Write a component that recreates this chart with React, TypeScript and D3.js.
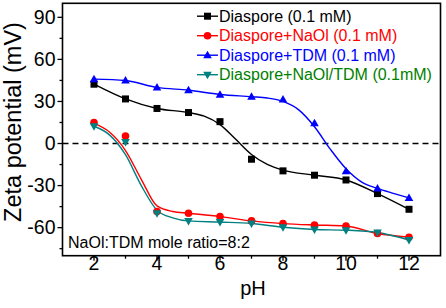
import React from "react";
import * as d3 from "d3";

const pH = [2, 3, 4, 5, 6, 7, 8, 9, 10, 11, 12];
const diaspore = [42.3, 31.8, 25, 22.1, 15.6, -11.2, -19.5, -22.6, -26, -35.7, -46.9];
const naol = [15, 5.4, -48.5, -49.7, -52.1, -55.2, -57.1, -58.1, -58.8, -64.2, -66.8];
const tdm = [45.9, 44.9, 39.9, 38, 34.7, 33.4, 31.4, 14.5, -19.8, -32.1, -38.8];
const mix = [12.3, 1.1, -49.7, -55.2, -56, -57, -59.7, -61.3, -61.8, -63.5, -68.8];

// fitted curves
const fitDiasporeX = [2, 3, 4, 5, 5.5, 6, 6.5, 7, 7.5, 8, 9, 10, 11, 12];
const fitDiasporeY = [42.3, 31.8, 25, 22.1, 19.5, 13.5, 3, -7.8, -14.9, -19, -22.6, -26, -35.7, -46.9];
const fitTdmX = [2, 3, 4, 5, 6, 7, 7.5, 8, 8.5, 9, 9.5, 10, 10.5, 11, 11.5, 12];
const fitTdmY = [45.9, 44.9, 40, 38, 35, 33.4, 32.5, 30, 24, 12, -4, -18, -27.5, -32, -35.5, -38.8];
const fitNaolX = [2, 2.5, 3, 3.5, 4, 4.5, 5, 6, 7, 8, 9, 10, 11, 12];
const fitNaolY = [14.3, 8, -5, -25.5, -44.5, -48.5, -49.7, -52.1, -55.2, -57.1, -58.1, -58.8, -64.2, -66.8];
const fitMixX = [2, 2.5, 3, 3.5, 4, 4.5, 5, 6, 7, 8, 9, 10, 11, 12];
const fitMixY = [12.3, 6, -8, -30, -47.5, -53, -55.2, -56, -57, -59.7, -61.3, -61.8, -63.5, -68.8];

const xMajor = [2, 4, 6, 8, 10, 12];
const xMinor = [3, 5, 7, 9, 11];
const yMajor = [-60, -30, 0, 30, 60, 90];
const yMinor = [-75, -45, -15, 15, 45, 75];

const legendLabels = [
  "Diaspore (0.1 mM)",
  "Diaspore+NaOl (0.1 mM)",
  "Diaspore+TDM (0.1 mM)",
  "Diaspore+NaOl/TDM (0.1mM)",
];

const W = 446, H = 308;
const L = 62.5, R = 440.5, T = 3.3, B = 255.7;
const FONT = "'Liberation Sans', Arial, sans-serif";

export default function App() {
  const x = d3.scaleLinear().domain([1, 13]).range([L, R]);
  const y = d3.scaleLinear().domain([-80, 100]).range([B, T]);
  const line = d3
    .line<[number, number]>()
    .x((d) => x(d[0]))
    .y((d) => y(d[1]))
    .curve(d3.curveMonotoneX);

  const series = [
    { vals: diaspore, fx: fitDiasporeX, fy: fitDiasporeY, color: "#000000", text: "#000000", shape: "square" },
    { vals: naol, fx: fitNaolX, fy: fitNaolY, color: "#FF0000", text: "#FF0000", shape: "circle" },
    { vals: tdm, fx: fitTdmX, fy: fitTdmY, color: "#0000FF", text: "#0000FF", shape: "up" },
    { vals: mix, fx: fitMixX, fy: fitMixY, color: "#008080", text: "#008000", shape: "down" },
  ];

  const marker = (shape: string, cx: number, cy: number, color: string, key: string) => {
    if (shape === "square")
      return <rect key={key} x={cx - 3.5} y={cy - 3.5} width={7} height={7} fill={color} />;
    if (shape === "circle") return <circle key={key} cx={cx} cy={cy} r={3.8} fill={color} />;
    if (shape === "up")
      return (
        <path key={key} d={`M${cx},${cy - 4.5}L${cx + 4.3},${cy + 3}L${cx - 4.3},${cy + 3}Z`} fill={color} />
      );
    return (
      <path key={key} d={`M${cx},${cy + 4.5}L${cx + 4.3},${cy - 3}L${cx - 4.3},${cy - 3}Z`} fill={color} />
    );
  };

  return (
    <svg width={W} height={H} style={{ position: "absolute", left: 0, top: 0, background: "#fff" }}>
      <rect width={W} height={H} fill="#fff" />
      {/* zero line */}
      <line x1={L} x2={R} y1={y(0)} y2={y(0)} stroke="#000" strokeWidth={1.4} strokeDasharray="6,4" />
      {/* curves */}
      {series.map((s, i) => (
        <path
          key={"l" + i}
          d={line(s.fx.map((v, j) => [v, s.fy[j]] as [number, number])) || ""}
          fill="none"
          stroke={s.color}
          strokeWidth={1.4}
        />
      ))}
      {series.map((s, i) =>
        s.vals.map((v, j) => marker(s.shape, x(pH[j]), y(v), s.color, `m${i}-${j}`))
      )}
      {/* frame */}
      <rect x={L} y={T} width={R - L} height={B - T} fill="none" stroke="#000" strokeWidth={1.6} />
      {/* x ticks */}
      {xMajor.map((t) => (
        <g key={"xt" + t}>
          <line x1={x(t)} x2={x(t)} y1={B} y2={B + 5} stroke="#000" strokeWidth={1.3} />
          <text x={x(t)} y={B + 14.5} textAnchor="middle" fontFamily={FONT} fontSize={19.5}>
            {t}
          </text>
        </g>
      ))}
      {xMinor.map((t) => (
        <line key={"xm" + t} x1={x(t)} x2={x(t)} y1={B} y2={B + 3} stroke="#000" strokeWidth={1.3} />
      ))}
      {/* y ticks */}
      {yMajor.map((t) => (
        <g key={"yt" + t}>
          <line x1={L - 5} x2={L} y1={y(t)} y2={y(t)} stroke="#000" strokeWidth={1.3} />
          <text x={L - 7} y={y(t) + 6.8} textAnchor="end" fontFamily={FONT} fontSize={19.5}>
            {t}
          </text>
        </g>
      ))}
      {yMinor.map((t) => (
        <line key={"ym" + t} x1={L - 3} x2={L} y1={y(t)} y2={y(t)} stroke="#000" strokeWidth={1.3} />
      ))}
      {/* axis titles */}
      <text x={253} y={294.5} textAnchor="middle" fontFamily={FONT} fontSize={20}>
        pH
      </text>
      <text
        transform={`translate(20.5,122) rotate(-90)`}
        textAnchor="middle"
        fontFamily={FONT}
        fontSize={23.5}
      >
        Zeta potential (mV)
      </text>
      {/* legend */}
      {series.map((s, i) => {
        const by = 21.7 + i * 19.5;
        const ly = by - 5.5;
        return (
          <g key={"lg" + i}>
            <line x1={197} x2={218} y1={ly} y2={ly} stroke={s.color} strokeWidth={1.4} />
            {marker(s.shape, 207.5, ly, s.color, "lm" + i)}
            <text x={219} y={by} fontFamily={FONT} fontSize={16} fill={s.text}>
              {legendLabels[i]}
            </text>
          </g>
        );
      })}
      <text x={68} y={248} fontFamily={FONT} fontSize={16}>
        NaOl:TDM mole ratio=8:2
      </text>
    </svg>
  );
}
